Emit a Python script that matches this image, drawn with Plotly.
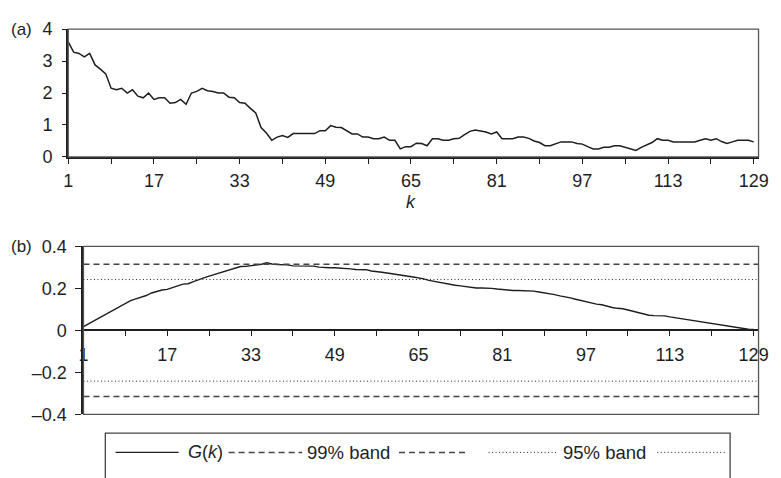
import plotly.graph_objects as go

# lag index k
k_values = list(range(1, 130))

# panel (a): statistic per lag
stat_a = [
    3.60, 3.28, 3.24, 3.13, 3.24, 2.88, 2.75, 2.60, 2.15, 2.10,
    2.15, 2.00, 2.10, 1.90, 1.85, 2.00, 1.80, 1.85, 1.85, 1.68,
    1.70, 1.80, 1.65, 2.00, 2.05, 2.15, 2.07, 2.05, 2.00, 2.00,
    1.87, 1.85, 1.70, 1.68, 1.52, 1.38, 0.92, 0.75, 0.52, 0.62,
    0.67, 0.61, 0.73, 0.73, 0.73, 0.73, 0.73, 0.82, 0.82, 0.98,
    0.93, 0.92, 0.82, 0.72, 0.72, 0.62, 0.62, 0.57, 0.57, 0.62,
    0.52, 0.52, 0.25, 0.32, 0.32, 0.43, 0.42, 0.35, 0.57, 0.57,
    0.52, 0.52, 0.57, 0.58, 0.70, 0.80, 0.84, 0.82, 0.78, 0.72,
    0.78, 0.57, 0.57, 0.57, 0.62, 0.62, 0.58, 0.50, 0.45, 0.35,
    0.35, 0.42, 0.47, 0.47, 0.47, 0.42, 0.40, 0.32, 0.25, 0.25,
    0.30, 0.30, 0.35, 0.35, 0.30, 0.25, 0.20, 0.30, 0.37, 0.45,
    0.57, 0.52, 0.52, 0.47, 0.47, 0.47, 0.47, 0.47, 0.52, 0.57,
    0.52, 0.57, 0.48, 0.42, 0.47, 0.52, 0.52, 0.52, 0.47,
]

# panel (b): G(k)
g_k = [
    0.018, 0.032, 0.047, 0.062, 0.075, 0.086, 0.100, 0.118, 0.128, 0.142,
    0.150, 0.157, 0.166, 0.178, 0.186, 0.192, 0.195, 0.205, 0.212, 0.220,
    0.222, 0.232, 0.242, 0.250, 0.258, 0.266, 0.275, 0.283, 0.290, 0.297,
    0.304, 0.305, 0.308, 0.312, 0.315, 0.322, 0.316, 0.314, 0.314, 0.312,
    0.307, 0.306, 0.306, 0.306, 0.306, 0.301, 0.298, 0.298, 0.298, 0.297,
    0.297, 0.293, 0.290, 0.289, 0.289, 0.283, 0.281, 0.277, 0.273, 0.270,
    0.266, 0.261, 0.258, 0.254, 0.250, 0.245, 0.238, 0.233, 0.228, 0.224,
    0.220, 0.215, 0.212, 0.208, 0.204, 0.202, 0.202, 0.202, 0.200, 0.197,
    0.194, 0.192, 0.190, 0.190, 0.190, 0.189, 0.187, 0.183, 0.179, 0.176,
    0.170, 0.164, 0.160, 0.155, 0.148, 0.142, 0.137, 0.130, 0.125, 0.122,
    0.115, 0.109, 0.105, 0.103, 0.097, 0.090, 0.085, 0.078, 0.072, 0.070,
    0.070, 0.069, 0.064, 0.060, 0.057, 0.052, 0.048, 0.045, 0.040, 0.036,
    0.032, 0.029, 0.025, 0.021, 0.016, 0.010, 0.006, 0.005, 0.004,
]

band_99 = 0.315
band_95 = 0.242

x_tickvals = list(range(1, 130, 8))
x_ticktext = [str(v) if (v - 1) % 16 == 0 else "" for v in x_tickvals]
ya_ticks = [0, 1, 2, 3, 4]
yb_ticks = [-0.4, -0.2, 0, 0.2, 0.4]
yb_ticktext = ["\u20130.4", "\u20130.2", "0", "0.2", "0.4"]

W, H = 781, 478
FONT = "Liberation Sans, Arial, Helvetica, sans-serif"
INK = "#1e1e1e"
FRAME = "#555555"


def px(x):
    return x / W


def py(y):
    return 1 - y / H


fig = go.Figure()

fig.add_trace(go.Scatter(x=k_values, y=stat_a, mode="lines",
                         line=dict(color=INK, width=1.5),
                         xaxis="x", yaxis="y", showlegend=False))
fig.add_trace(go.Scatter(x=k_values, y=g_k, mode="lines",
                         line=dict(color=INK, width=1.4),
                         xaxis="x2", yaxis="y2", showlegend=False))

shapes = []
# confidence bands in panel (b)
for sign in (1, -1):
    shapes.append(dict(type="line", xref="x2 domain", yref="y2",
                       x0=0, x1=1, y0=sign * band_99, y1=sign * band_99,
                       line=dict(color="#444444", width=1.5, dash="6px,4px")))
    shapes.append(dict(type="line", xref="x2 domain", yref="y2",
                       x0=0, x1=1, y0=sign * band_95, y1=sign * band_95,
                       line=dict(color="#222222", width=1, dash="1px,2.5px")))
# plot frames
shapes.append(dict(type="rect", xref="x domain", yref="y domain",
                   x0=0, x1=1, y0=0, y1=1, line=dict(color=FRAME, width=1.3)))
shapes.append(dict(type="rect", xref="x2 domain", yref="y2 domain",
                   x0=0, x1=1, y0=0, y1=1, line=dict(color=FRAME, width=1.3)))

# legend box drawn by hand: sample line on both sides of each label
LEG_Y = 461.7
shapes.append(dict(type="rect", xref="paper", yref="paper",
                   x0=px(102.3), x1=px(739.3), y0=py(441.7), y1=py(490),
                   line=dict(color="#444444", width=1.3)))
shapes.append(dict(type="line", xref="paper", yref="paper",
                   x0=px(112.7), x1=px(177), y0=py(LEG_Y), y1=py(LEG_Y),
                   line=dict(color=INK, width=1.3)))
for a, b in ((228, 303), (401.7, 471.7)):
    shapes.append(dict(type="line", xref="paper", yref="paper",
                       x0=px(a), x1=px(b), y0=py(LEG_Y), y1=py(LEG_Y),
                       line=dict(color="#444444", width=1.5, dash="6px,4px")))
for a, b in ((493, 563), (665, 735)):
    shapes.append(dict(type="line", xref="paper", yref="paper",
                       x0=px(a), x1=px(b), y0=py(LEG_Y), y1=py(LEG_Y),
                       line=dict(color="#222222", width=1, dash="1px,2.5px")))

annotations = [
    dict(text="(a)", x=px(4), y=py(20), xref="paper", yref="paper",
         xanchor="left", yanchor="middle", showarrow=False,
         font=dict(size=17, color=INK, family=FONT)),
    dict(text="(b)", x=px(4), y=py(247), xref="paper", yref="paper",
         xanchor="left", yanchor="middle", showarrow=False,
         font=dict(size=17, color=INK, family=FONT)),
    dict(text="<i>k</i>", x=px(414), y=py(200), xref="paper", yref="paper",
         xanchor="center", yanchor="middle", showarrow=False,
         font=dict(size=18, color=INK, family=FONT)),
    dict(text="<i>G</i>(<i>k</i>)", x=px(204.5), y=py(LEG_Y), xref="paper",
         yref="paper", xanchor="center", yanchor="middle", showarrow=False,
         font=dict(size=18, color=INK, family=FONT)),
    dict(text="99% band", x=px(350), y=py(LEG_Y), xref="paper",
         yref="paper", xanchor="center", yanchor="middle", showarrow=False,
         font=dict(size=18.5, color=INK, family=FONT)),
    dict(text="95% band", x=px(611.5), y=py(LEG_Y), xref="paper",
         yref="paper", xanchor="center", yanchor="middle", showarrow=False,
         font=dict(size=18.5, color=INK, family=FONT)),
]

tickfont = dict(size=18, color=INK, family=FONT)

fig.update_layout(
    width=W, height=H, autosize=False,
    margin=dict(l=0, r=0, t=0, b=0),
    paper_bgcolor="white", plot_bgcolor="white",
    showlegend=False,
    shapes=shapes,
    annotations=annotations,
    xaxis=dict(domain=[px(64.5), px(768.3)], range=[1, 129.9], anchor="y",
               tickmode="array", tickvals=x_tickvals, ticktext=x_ticktext,
               ticks="outside", ticklen=5, tickwidth=1.3, tickcolor=INK,
               showline=True, linecolor=INK, linewidth=1.5,
               showgrid=False, zeroline=False, tickfont=tickfont,
               ticklabelstandoff=2),
    yaxis=dict(domain=[py(153.3), py(20)], range=[0, 4], anchor="x",
               tickmode="array", tickvals=ya_ticks,
               ticks="outside", ticklen=4.5, tickwidth=1.3, tickcolor=INK,
               showline=True, linecolor=INK, linewidth=1.5,
               showgrid=False, zeroline=False, tickfont=tickfont,
               ticklabelstandoff=6),
    xaxis2=dict(domain=[px(80), px(768.3)], range=[1, 129.94],
                anchor="free", position=py(334.35),
                tickmode="array", tickvals=x_tickvals, ticktext=x_ticktext,
                ticks="outside", ticklen=5, tickwidth=1.3, tickcolor=INK,
                showline=True, linecolor=INK, linewidth=1.5,
                showgrid=False, zeroline=False, tickfont=tickfont,
                ticklabelstandoff=3),
    yaxis2=dict(domain=[py(422), py(246.7)], range=[-0.4, 0.4], anchor="x2",
                tickmode="array", tickvals=yb_ticks, ticktext=yb_ticktext,
                ticks="outside", ticklen=6, tickwidth=1.3, tickcolor=INK,
                showline=True, linecolor=INK, linewidth=2.2,
                showgrid=False, zeroline=False, tickfont=tickfont,
                ticklabelstandoff=5),
)

# page without the default body margin; redraw at the full window size
fig.write_html(
    "out.html",
    config={"responsive": False},
    post_script=(
        "document.body.style.margin='0';"
        "document.body.style.overflow='hidden';"
        "var gd=document.getElementById('{plot_id}');"
        "Plotly.relayout(gd,{width:781,height:478,autosize:false});"
    ),
)
